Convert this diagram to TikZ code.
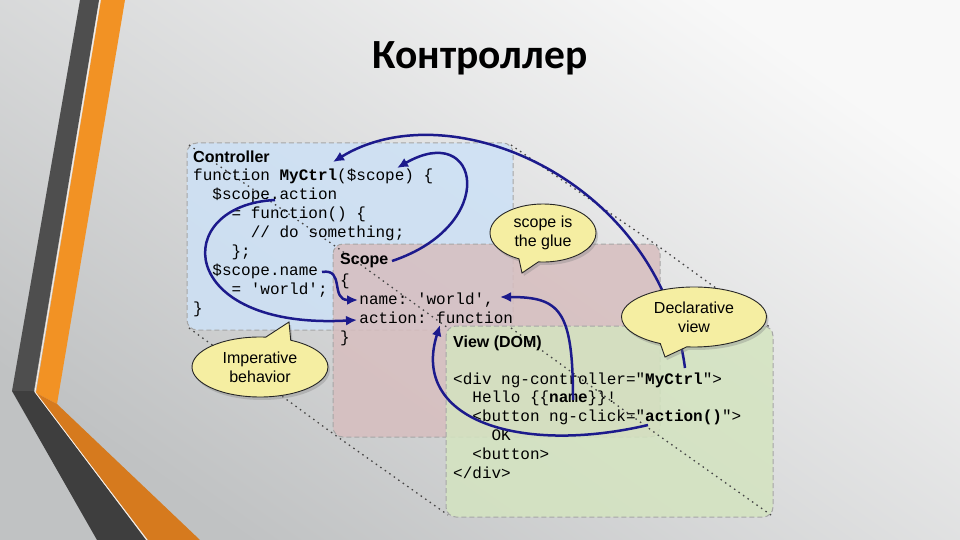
\documentclass[tikz,border=0pt]{standalone}
\usepackage{fontspec}
\setmainfont{Liberation Sans}
\setmonofont{Liberation Mono}
\newfontfamily\titlefont{Carlito}
\usepackage{xcolor}
\usepackage{tikz}
\usetikzlibrary{arrows.meta, positioning, shapes.callouts, shadows}

\definecolor{bglight}{RGB}{248,248,248}
\definecolor{bgdark}{RGB}{192,194,195}
\definecolor{stripedark}{RGB}{78,78,78}
\definecolor{stripedarklow}{RGB}{62,62,62}
\definecolor{stripeorange}{RGB}{242,146,36}
\definecolor{stripeorangelow}{RGB}{214,122,30}
\definecolor{ctrlblue}{RGB}{205,225,246}
\definecolor{scopepink}{RGB}{215,190,191}
\definecolor{viewgreen}{RGB}{212,228,192}
\definecolor{bubblefill}{RGB}{245,238,162}
\definecolor{arrowblue}{RGB}{28,26,140}

\begin{document}
\begin{tikzpicture}[x=1pt, y=-1pt,
    box/.style={draw=gray!70, dash pattern=on 5pt off 3pt, line width=1pt,
      rounded corners=10pt, fill opacity=0.85},
    proj/.style={gray!55!black, line width=1.3pt, dash pattern=on 1.5pt off 4pt},
    code/.style={anchor=base west, inner sep=0pt, align=left,
      font=\fontsize{16}{18.8}\selectfont},
    glue/.style={-{Latex[length=11pt,width=10pt]}, line width=2.5pt, arrowblue},
    bubble/.style={ellipse callout, draw=black!85, line width=0.9pt, fill=bubblefill,
      inner sep=0pt, align=center, font=\fontsize{16}{19}\selectfont,
      callout pointer arc=22,
      drop shadow={opacity=0.35, shadow xshift=2pt, shadow yshift=-3pt}}]
  \useasboundingbox (0,0) rectangle (960,540);
  % slide background and side stripes
  \shade[top color=bglight, bottom color=bgdark, shading angle=-35] (0,0) rectangle (960,540);
  \fill[stripedark] (80,0) -- (99,0) -- (34,391) -- (12,391) -- cycle;
  \fill[stripedarklow] (12,391) -- (34,391) -- (146,540) -- (97,540) -- cycle;
  \fill[stripeorange] (101,0) -- (125,0) -- (57,404) -- (36,393) -- cycle;
  \fill[stripeorangelow] (36,393) -- (57,404) -- (200,540) -- (148,540) -- cycle;
  \draw[white!90!orange, line width=0.8pt] (100,0) -- (35,392) -- (147,540);
  \node[font=\titlefont\bfseries\fontsize{41.5}{44}\selectfont] (title) at (480,58) {Контроллер};

  % the three layers
  \draw[box, fill=ctrlblue] (187,143) rectangle (513,330);
  \draw[box, fill=scopepink] (333,244) rectangle (660,437);
  \draw[box, fill=viewgreen] (446,326) rectangle (773,517);
  \foreach \ax/\ay/\bx/\by/\cx/\cy in {189/145/335/246/448/328, 511/145/658/246/771/328,
      189/328/335/435/448/515, 511/328/658/435/771/515}
    \draw[proj] (\ax,\ay) -- (\bx,\by) -- (\cx,\cy);

  % code (nodes sit on the baseline of their last line)
  \node[code, font=\fontsize{16}{19}\selectfont] (ctrlcode) at (193,313) {\textbf{Controller}\\[-1pt]
    \ttfamily function \textbf{MyCtrl}(\$scope) \{\\
    \ttfamily\hphantom{xx}\$scope.action\\
    \ttfamily\hphantom{xxxx}= function() \{\\
    \ttfamily\hphantom{xxxxxx}// do something;\\
    \ttfamily\hphantom{xxxx}\};\\
    \ttfamily\hphantom{xx}\$scope.name\\
    \ttfamily\hphantom{xxxx}= 'world';\\
    \ttfamily \}};
  \node[code] (scopecode) at (340,342) {\textbf{Scope}\\[2pt]
    \ttfamily \{\\
    \ttfamily\hphantom{xx}name: 'world',\\
    \ttfamily\hphantom{xx}action: function\\
    \ttfamily \}};
  \node[code] (viewcode) at (453,478) {\textbf{View (DOM)}\\[18pt]
    \ttfamily <div ng-controller="\textbf{MyCtrl}">\\
    \ttfamily\hphantom{xx}Hello \{\{\textbf{name}\}\}!\\
    \ttfamily\hphantom{xx}<button ng-click="\textbf{action()}">\\
    \ttfamily\hphantom{xxxx}OK\\
    \ttfamily\hphantom{xx}<button>\\
    \ttfamily </div>};

  % arrows between the names
  \coordinate (viewCtrl) at (685,368);
  \coordinate (ctrlName) at (333,162);
  \coordinate (scopeLbl) at (392,261);
  \coordinate (scopeArg) at (397,168);
  \coordinate (actionDef) at (275,200);
  \coordinate (actionKey) at (357,320);
  \coordinate (nameDef) at (322,272);
  \coordinate (nameKey) at (358,300);
  \coordinate (nameUse) at (573,400);
  \coordinate (nameVal) at (500,297);
  \coordinate (actionUse) at (648,425);
  \coordinate (actionVal) at (440,325);
  \draw[glue] (viewCtrl) .. controls (660,180) and (450,90) .. (ctrlName);
  \draw[glue] (scopeLbl) .. controls (500,225) and (480,120) .. (scopeArg);
  \draw[glue] (actionDef) .. controls (170,205) and (175,330) .. (actionKey);
  \draw[glue] (nameDef) .. controls (345,268) and (330,300) .. (nameKey);
  \draw[glue] (nameUse) .. controls (573,310) and (560,297) .. (nameVal);
  \draw[glue] (actionUse) .. controls (520,455) and (410,420) .. (actionVal);

  % speech bubbles
  \node[bubble, minimum width=106pt, minimum height=58pt,
    callout absolute pointer={(522,273)}] (glue) at (543,233) {scope is\\the glue};
  \node[bubble, minimum width=145pt, minimum height=60pt,
    callout absolute pointer={(665,357)}] (decl) at (694,317) {Declarative\\view};
  \node[bubble, minimum width=136pt, minimum height=60pt,
    callout absolute pointer={(289,322)}] (imper) at (260,367) {Imperative\\behavior};
\end{tikzpicture}
\end{document}
